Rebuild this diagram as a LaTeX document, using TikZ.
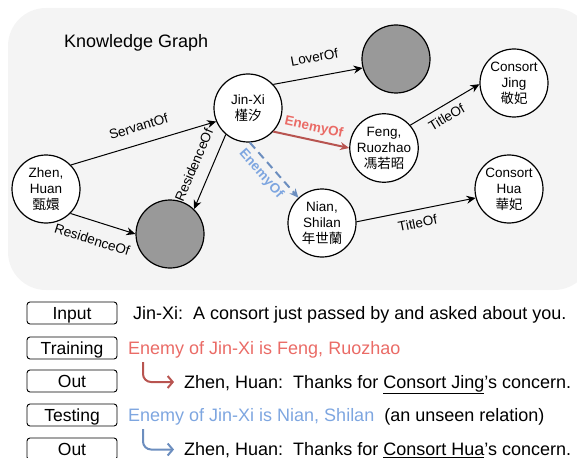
\documentclass[tikz,border=0pt]{standalone}
\usepackage{fontspec}
\setmainfont{Liberation Sans}
\newfontfamily\cjk{Noto Sans CJK TC}
\usetikzlibrary{arrows.meta}

\definecolor{bgGray}{HTML}{F4F4F4}
\definecolor{nodeGray}{HTML}{999999}
\definecolor{enemyRed}{HTML}{B85450}
\definecolor{enemyRedText}{HTML}{EA6B66}
\definecolor{enemyBlue}{HTML}{6C8EBF}
\definecolor{enemyBlueText}{HTML}{7EA6E0}

\tikzset{
	entity/.style={circle, draw, line width=1.2pt, fill=white, minimum size=68pt, inner sep=0pt, align=center, font=\fontsize{13.5}{16}\selectfont},
	blank/.style={entity, fill=nodeGray},
	rel/.style={line width=1pt, -{Stealth[length=9pt,width=8pt]}},
	rellabel/.style={sloped, inner sep=1pt, font=\fontsize{13.5}{15}\selectfont},
	enemylabel/.style={rellabel, font=\bfseries\fontsize{13.5}{15}\selectfont},
	tagbox/.style={draw, rounded corners=3pt, line width=0.9pt, minimum width=90pt, minimum height=22pt, inner sep=0pt, text height=12.9pt, text depth=0pt, font=\fontsize{17.5}{20}\selectfont},
	textline/.style={anchor=base west, inner sep=0pt, font=\fontsize{18}{20}\selectfont},
	bendarrow/.style={line width=2pt, rounded corners=8pt, -{Straight Barb[length=5pt,width=12pt]}}
}

\begin{document}
\begin{tikzpicture}[x=1pt, y=-1pt]
	\useasboundingbox (0,0) rectangle (577,457);
	\fill[bgGray, rounded corners=38pt] (8,8) rectangle (592,290);
	\node[anchor=west, inner sep=0pt, font=\fontsize{18}{20}\selectfont] (title) at (64,43) {Knowledge Graph};

	\node[entity] (jinxi) at (248,108) {Jin-Xi\\{\cjk 槿汐}};
	\node[blank] (lover) at (396,59) {};
	\node[entity] (jing) at (514,83) {Consort\\Jing\\{\cjk 敬妃}};
	\node[entity] (feng) at (384,148) {Feng,\\Ruozhao\\{\cjk 馮若昭}};
	\node[entity] (hua) at (509,189) {Consort\\Hua\\{\cjk 華妃}};
	\node[entity] (nian) at (322,223) {Nian,\\Shilan\\{\cjk 年世蘭}};
	\node[entity] (zhen) at (46,189) {Zhen,\\Huan\\{\cjk 甄嬛}};
	\node[blank] (palace) at (170,234) {};

	\draw[rel] (zhen.44) -- node[rellabel, above=11pt] {ServantOf} (jinxi.203);
	\draw[rel] (zhen.315) -- node[rellabel, below=12pt, pos=0.42] {ResidenceOf} (palace.180);
	\draw[rel] (jinxi.230) -- node[rellabel, above=11pt] {ResidenceOf} (palace.46);
	\draw[rel] (jinxi.43) -- node[rellabel, above=13pt] {LoverOf} (lover.195);
	\draw[rel, enemyRed, line width=2pt] (jinxi.317) -- node[enemylabel, above=4pt, text=enemyRedText] {EnemyOf} (feng.180);
	\draw[rel, enemyBlue, line width=2pt, dash pattern=on 8pt off 5pt] (jinxi.273) -- node[enemylabel, below=4pt, pos=0.42, text=enemyBlueText] {EnemyOf} (nian.133);
	\draw[rel] (feng.41) -- node[rellabel, below=5pt, pos=0.44] {TitleOf} (jing.182);
	\draw[rel] (nian.2) -- node[rellabel, below=7pt, pos=0.49] {TitleOf} (hua.195);

	\node[tagbox] (input) at (72,313) {Input};
	\node[tagbox] (train) at (72,348) {Training};
	\node[tagbox] (outA) at (72,381) {Out};
	\node[tagbox] (test) at (72,415) {Testing};
	\node[tagbox] (outB) at (72,449) {Out};

	\node[textline] (query) at (133,319.3) {Jin-Xi:\ \ A consort just passed by and asked about you.};
	\node[textline, text=enemyRedText] (seen) at (128,354) {Enemy of Jin-Xi is Feng, Ruozhao};
	\node[textline] (replyA) at (184,388) {Zhen, Huan:\ \ Thanks for \underline{Consort Jing}'s concern.};
	\node[textline] (unseen) at (128,421.7) {\textcolor{enemyBlueText}{Enemy of Jin-Xi is Nian, Shilan}\ \ (an unseen relation)};
	\node[textline] (replyB) at (184,455.5) {Zhen, Huan:\ \ Thanks for \underline{Consort Hua}'s concern.};

	\coordinate (redstart) at (143,362);
	\coordinate (bluestart) at (143,429);
	\draw[bendarrow, enemyRed] (redstart) |- ([xshift=-10pt,yshift=6pt]replyA.base west);
	\draw[bendarrow, enemyBlue] (bluestart) |- ([xshift=-10pt,yshift=6pt]replyB.base west);
\end{tikzpicture}
\end{document}
